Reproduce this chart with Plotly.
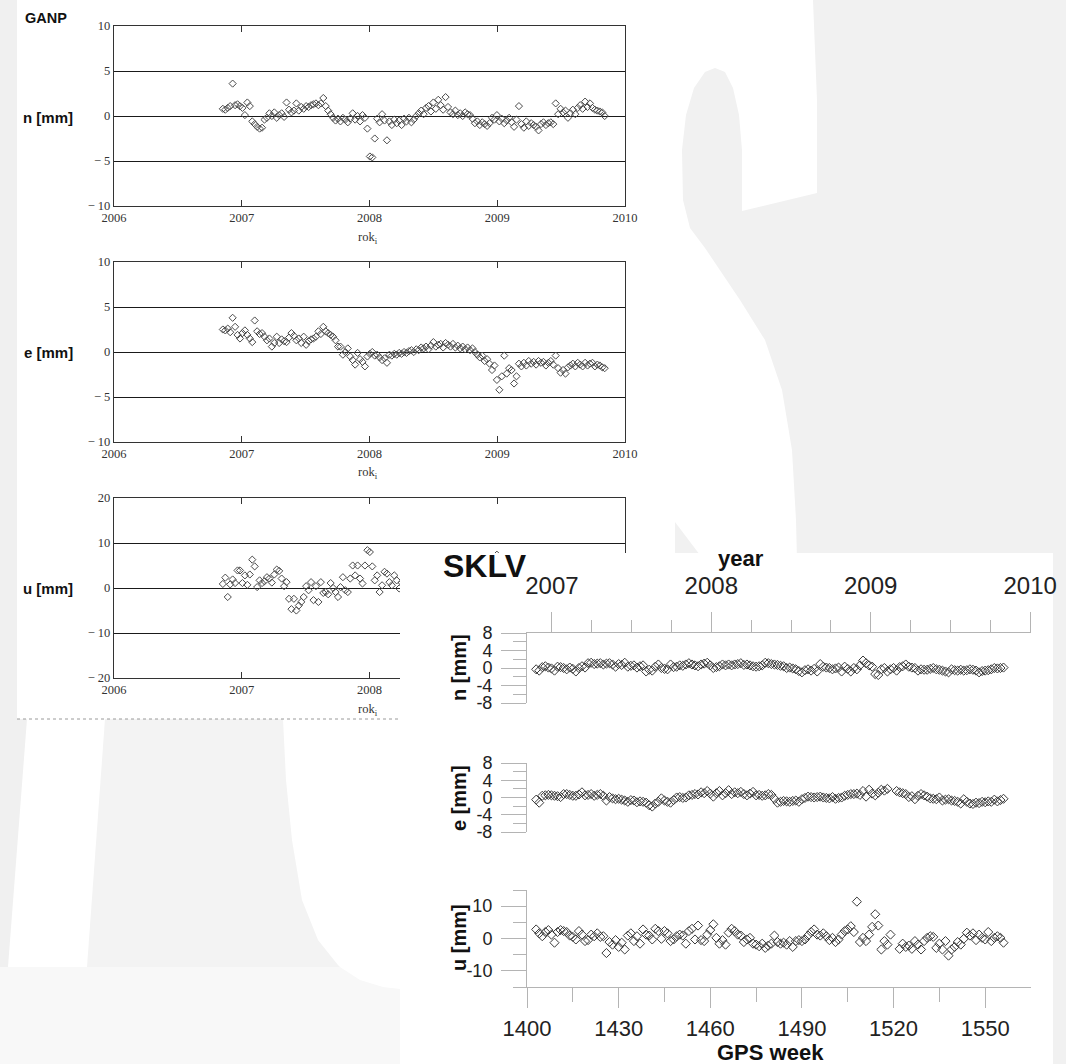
import datetime as dt
import plotly.graph_objects as go

W, H = 1066, 1064


def px(x):
    return x / W


def py(y):
    return 1 - y / H


# ---------------------------------------------------------------- data
# GANP: weekly solutions, GPS weeks 1400-1556 (plotted against decimal year)
ganp_weeks = list(range(1400, 1557))
ganp_n = [
    0.8, 0.7, 0.9, 1.1, 3.6, 1.2, 1.3, 1.1, 0.9, 0.1,
    1.5, 1.1, -0.6, -0.9, -1.2, -1.4, -1.3, -0.4, -0.2, 0.3,
    0.0, 0.4, -0.2, 0.1, 0.3, -0.1, 1.5, 0.7, 0.4, 0.6,
    1.4, 0.6, 1.0, 0.8, 1.1, 1.0, 1.2, 1.3, 1.4, 1.2,
    1.4, 2.0, 1.1, 0.6, 0.2, -0.2, -0.5, -0.3, -0.6, -0.2,
    -0.4, -0.7, -0.3, 0.3, -0.4, 0.0, -0.6, 0.1, -0.2, -1.4,
    -4.5, -4.6, -2.5, -0.3, -0.7, 0.2, -0.5, -2.7, -0.6, -1.0,
    -0.4, -0.8, -0.5, -1.0, -0.3, -0.6, -0.2, -0.7, -0.4, 0.0,
    0.3, 0.6, 0.2, 0.9, 1.1, 0.5, 1.5, 0.8, 1.8, 1.2,
    0.7, 2.1, 1.0, 0.4, 0.2, 0.6, 0.1, 0.3, 0.0, 0.4,
    0.2, 0.1, -0.3, -0.8, -0.6, -1.0, -0.7, -0.9, -1.1, -0.8,
    -0.2, -0.4, 0.1, -0.6, -0.3, -0.8, -0.5, -0.2, -0.7, -1.2,
    -0.4, 1.1, -0.9, -1.3, -0.6, -1.1, -0.8, -1.0, -1.2, -1.6,
    -0.9, -0.7, -1.0, -0.8, -0.7, -0.9, 1.4, 0.2, 0.8, 0.4,
    0.6, -0.2, 0.3, 0.7, 0.2, 0.9, 1.2, 0.8, 1.6, 1.0,
    1.4, 0.9, 0.7, 0.6, 0.5, 0.4, 0.0,
]
ganp_e = [
    2.5, 2.4, 2.6, 2.2, 3.8, 2.8, 1.9, 1.5, 2.1, 2.4,
    1.9, 1.5, 1.1, 3.5, 2.3, 2.0, 2.1, 1.7, 1.3, 1.5,
    0.6, 1.0, 1.7, 1.0, 1.4, 1.2, 1.1, 1.6, 2.1, 1.8,
    1.3, 1.5, 1.0, 1.7, 0.8, 1.2, 1.4, 1.5, 1.7, 2.3,
    2.0, 2.8, 2.3, 2.1, 1.9, 1.7, 1.3, 0.6, 0.6, -0.3,
    0.0, 0.4, -0.5, -0.9, -1.4, -0.1, -0.8, -1.1, -1.6, -0.5,
    -0.2, 0.0, -0.4, -0.3, -0.6, -0.9, -0.7, -1.2, -0.3, -0.4,
    -0.2, -0.3, -0.1, -0.2, 0.0, -0.1, 0.1, 0.2, 0.0, 0.3,
    0.2, 0.5, 0.4, 0.6, 0.3, 0.7, 1.1, 0.6, 0.8, 0.9,
    0.5, 1.0, 0.8, 0.6, 0.9, 0.5, 0.7, 0.4, 0.6, 0.3,
    0.5, 0.2, 0.4, 0.0, -0.3, -0.6, -0.4, -1.0, -0.8, -1.3,
    -2.0, -1.5, -3.1, -4.2, -2.7, -0.4, -2.4, -1.8, -2.0, -3.5,
    -2.7, -1.3, -1.6, -1.2, -1.5, -1.0, -1.3, -1.1, -1.4, -1.0,
    -1.2, -1.1, -1.5, -1.2, -1.0, -1.4, -0.4, -1.8, -2.3, -2.0,
    -2.4, -1.7, -1.5, -1.3, -1.6, -1.2, -1.4, -1.6, -1.2, -1.5,
    -1.3, -1.2, -1.6, -1.4, -1.5, -1.7, -1.8,
]
ganp_u = [
    0.9, 2.3, -2.0, 0.8, 1.9, 1.1, 3.9, 3.9, 1.1, 2.8,
    0.7, 3.0, 6.3, 4.8, 0.2, 1.7, 1.1, 1.5, 2.4, 2.1,
    1.2, 3.0, 4.1, 3.8, 2.1, 0.4, 1.3, -2.4, -4.7, -2.4,
    -5.0, -3.9, -3.1, -2.0, 0.4, -0.5, 1.3, -2.7, 0.4, -3.1,
    1.3, -1.1, -0.9, -1.4, 1.1, 0.0, -0.9, -2.0, 0.2, 2.4,
    -0.5, -0.9, 2.1, 5.0, 2.8, 5.0, 2.1, 1.0, 5.0, 8.4,
    8.0, 4.8, 1.7, 2.8, -0.9, 0.6, 3.6, 3.2, 1.3, 0.6,
    2.8, 1.7, -0.1, 1.2, -0.8, 0.5, 2.1, -1.5, 0.3, 1.8,
    -0.6, 2.4, 0.9, -1.2, 1.5, 3.0, 0.2, -2.1, 1.1, 2.6,
    -0.4, 0.8, 1.9, -1.0, 0.4, 2.2, -1.8, 0.6, 1.4, -0.9,
    2.8, 1.0, -0.3, 1.7, -1.4, 0.5, 2.3, 3.5, -0.7, 1.2,
    4.1, 2.0, 7.4, 3.2, -1.1, 0.9, 2.5, -2.3, 0.0, 1.6,
    -1.2, -0.5, 2.0, -2.8, -0.6, 1.3, -1.9, 0.4, -3.0, -1.5,
    0.7, -2.2, 1.0, -0.8, 1.8, -1.6, 0.2, 2.4, -0.4, 1.1,
    -2.0, 0.6, 2.9, 0.3, -1.3, 1.6, 2.7, -0.2, 0.9, 3.1,
    1.4, -0.7, 0.5, 2.2, 1.0, -0.6, 0.8,
]

# SKLV: weekly solutions, GPS weeks 1403-1556 (None = no solution)
sklv_weeks = list(range(1403, 1557))
sklv_n = [
    -0.3, -0.6, 0.2, 0.4, 0.1, -0.1, -0.6, 0.3, 0.2, 0.0,
    -0.3, 0.1, -0.2, -0.8, 0.0, 0.4, 0.1, 1.1, 1.2, 0.9,
    1.0, 1.1, 0.8, 1.0, 1.1, 0.8, 0.3, 0.9, 0.7, 1.2,
    0.3, 0.5, 0.6, 0.1, 0.4, 0.6, -0.8, -0.4, -0.6, 0.3,
    0.8, 0.0, -0.2, -0.3, 0.8, 0.2, 0.3, 0.6, 0.5, 0.8,
    1.1, 0.8, 0.6, 0.4, 0.8, 1.0, 1.2, 0.6, 0.0, 0.2,
    0.4, 0.8, 0.6, 0.8, 0.6, 0.8, 0.9, 1.1, 0.7, 0.8,
    0.6, 0.4, 0.3, 0.4, 0.6, 1.2, 1.1, 0.9, 0.8, 0.7,
    0.5, 0.4, 0.0, 0.1, -0.1, -0.3, -0.7, -1.0, -0.5, -0.3,
    -0.6, -0.2, -0.8, 0.9, 0.3, 0.1, 0.0, -0.3, -0.1, 0.1,
    -0.8, 0.3, -0.2, -0.8, 0.0, -0.3, 0.6, 1.7, 1.1, 0.6,
    0.3, -1.4, -1.6, -0.3, 0.0, -0.8, -0.3, 0.0, -0.6, 0.2,
    0.4, 0.8, 0.3, 0.1, 0.0, -0.6, -0.3, -0.4, -0.4, -0.2,
    0.0, -0.3, -0.4, -0.6, -0.8, -1.0, -0.3, -0.5, -0.6, -0.4,
    -0.6, -0.5, -0.3, -0.4, -0.6, -1.0, -0.7, -0.6, -0.5, -0.3,
    0.0, -0.1, 0.0, 0.1,
]
sklv_e = [
    -0.5, -1.2, 0.4, 0.5, 0.6, 0.5, 0.4, 0.3, 0.1, 0.8,
    0.8, 0.6, 0.4, 0.4, 0.7, 1.2, 0.5, 0.6, 0.8, 0.4,
    0.6, 0.8, 0.4, -0.7, 0.1, -0.2, -0.4, -0.3, -0.5, -0.7,
    -1.0, -0.6, -0.7, -1.1, -0.9, -1.0, -1.2, -1.8, -2.1, -1.4,
    -1.0, -0.2, -0.7, -1.0, -1.2, -0.6, 0.0, 0.1, -0.1, 0.0,
    0.5, 0.6, 0.8, 0.7, 1.2, 1.0, 1.5, 0.9, 0.2, 1.0,
    1.5, 0.5, 1.0, 1.7, 0.8, 1.2, 1.0, 1.3, 0.8, 0.5,
    0.9, 1.3, 0.5, 0.6, 0.4, 0.5, 0.8, 0.6, -0.3, -1.2,
    -1.0, -0.8, -0.9, -1.0, -0.8, -0.7, -1.0, -0.4, -0.1, 0.2,
    0.1, 0.0, 0.1, 0.2, 0.0, -0.1, -0.2, 0.1, -0.3, -0.1,
    0.0, 0.4, 0.6, 0.8, 0.8, 0.9, 0.6, 1.5, 0.2, 1.8,
    0.9, 0.5, 1.1, 1.8, 1.6, 2.0, None, None, 1.5, 1.2,
    1.0, 0.8, 0.1, 0.3, -0.4, 0.4, 0.8, 0.5, 0.2, -0.2,
    -0.3, -0.4, 0.0, -0.7, -0.5, -0.4, -0.7, -0.8, -1.0, -1.4,
    -0.4, -1.0, -1.4, -1.5, -1.2, -1.3, -1.0, -1.1, -0.9, -1.0,
    -0.5, -0.9, -0.6, -0.3,
]
sklv_u = [
    2.8, 1.6, 0.7, 2.0, 2.6, 1.2, -1.3, 2.0, 2.6, 2.3,
    2.0, 0.9, 0.5, -0.3, 2.3, 1.2, -0.8, -0.5, 1.2, 0.7,
    1.6, 0.5, 0.7, -4.5, -1.1, -1.9, -0.5, -2.6, -1.3, -3.4,
    0.9, 1.6, -0.8, 0.7, -1.6, 2.8, 1.2, 0.9, -0.3, 3.0,
    2.3, -0.1, 2.3, 1.6, -0.8, -0.3, 0.7, 1.2, 0.9, -1.6,
    2.3, 3.0, -0.3, 4.0, -0.5, -0.8, 1.2, 2.6, 4.4, 0.2,
    -1.6, -0.5, -1.9, 1.8, 3.0, 2.3, 1.2, 0.9, -1.1, -0.3,
    0.2, -1.6, -1.9, -2.4, -1.6, -2.9, -2.2, -1.6, 0.9, -1.1,
    -1.6, -1.3, -1.9, -0.8, -2.6, -0.8, -0.5, -0.8, -0.3, 0.9,
    2.0, 2.8, 1.2, 0.9, 1.6, 0.7, -0.5, 0.2, -1.1, -0.3,
    1.2, 2.3, 2.8, 3.8, 2.0, 11.4, -1.1, 0.2, -0.8, 1.2,
    3.6, 7.5, 4.0, -3.4, -0.8, -1.9, 1.2, None, None, -3.2,
    -1.6, -2.6, -2.2, -3.2, -0.8, -1.9, -3.4, -0.8, 0.2, 0.7,
    0.5, -2.9, -1.6, -3.4, -0.8, -5.3, -3.4, -2.6, -1.1, -1.9,
    -0.1, 1.8, 0.9, 1.6, -0.5, 1.2, 0.2, -0.3, 2.0, -0.8,
    0.2, 0.7, 0.2, -1.3,
]

ganp_year_ticks = [2006, 2007, 2008, 2009, 2010]
sklv_year_ticks = [2007, 2008, 2009, 2010]
sklv_week_range = [1400, 1565]
sklv_week_ticks = [1400, 1430, 1460, 1490, 1520, 1550]
sklv_week_minor = [1415, 1445, 1475, 1505, 1535]

# ---------------------------------------------------------------- time scales
GPS_EPOCH = dt.date(1980, 1, 6)


def week_to_year(w):
    """Decimal year of the middle of GPS week w."""
    d = GPS_EPOCH + dt.timedelta(days=7 * w + 3)
    y0 = dt.date(d.year, 1, 1)
    y1 = dt.date(d.year + 1, 1, 1)
    return d.year + (d - y0).days / (y1 - y0).days


def date_to_week(d):
    return (d - GPS_EPOCH).days / 7.0


W07 = date_to_week(dt.date(2007, 1, 1))
W10 = date_to_week(dt.date(2010, 1, 1))


def week_to_year_lin(w):
    return 2007 + (w - W07) * 3.0 / (W10 - W07)


ganp_years = [week_to_year(w) for w in ganp_weeks]

# ---------------------------------------------------------------- styling
SERIF = "Liberation Serif"
SANS = "Liberation Sans"
GANP_MARK = dict(symbol="diamond-open", size=5.5, color="#4a4a4a", line=dict(width=1))
SKLV_MARK = dict(symbol="diamond-open", size=7, color="#3a3a3a", line=dict(width=1))
LIGHT = "#b4b4b4"

fig = go.Figure()

# GANP panels (subplots 1-3)
for k, vals in zip((1, 2, 3), (ganp_n, ganp_e, ganp_u)):
    fig.add_trace(go.Scatter(
        x=ganp_years, y=vals, mode="markers", marker=GANP_MARK,
        xaxis="x" if k == 1 else f"x{k}", yaxis="y" if k == 1 else f"y{k}",
        showlegend=False, hoverinfo="skip"))

# white card of the SKLV figure, covering the lower GANP panel (subplot 4)
fig.add_trace(go.Scatter(
    x=[0, 1, 1, 0, 0], y=[0, 0, 1, 1, 0], mode="none", fill="toself",
    fillcolor="white", xaxis="x4", yaxis="y4", showlegend=False, hoverinfo="skip"))

# SKLV panels (subplots 5-7)
for k, vals in zip((5, 6, 7), (sklv_n, sklv_e, sklv_u)):
    fig.add_trace(go.Scatter(
        x=sklv_weeks, y=vals, mode="markers", marker=SKLV_MARK,
        xaxis=f"x{k}", yaxis=f"y{k}", showlegend=False, hoverinfo="skip"))

# calendar-year axis on top of the SKLV panels
fig.add_trace(go.Scatter(
    x=[week_to_year_lin(sklv_week_range[0])], y=[None], mode="markers",
    xaxis="x8", yaxis="y5", showlegend=False, hoverinfo="skip"))

GX = [px(114), px(625)]
ganp_rows = {1: (26, 206, 10), 2: (262, 442, 10), 3: (498, 678, 20)}

layout = dict(
    width=W, height=H, autosize=False,
    margin=dict(l=0, r=0, t=0, b=0, pad=0, autoexpand=False),
    paper_bgcolor="white", plot_bgcolor="rgba(0,0,0,0)",
    showlegend=False,
)


def minus(v):
    return ("\u2212 " + str(abs(v))) if v < 0 else str(v)


for k, (top, bot, lim) in ganp_rows.items():
    xs = "xaxis" if k == 1 else f"xaxis{k}"
    ys = "yaxis" if k == 1 else f"yaxis{k}"
    yvals = [-lim, -lim // 2, 0, lim // 2, lim]
    layout[xs] = dict(
        domain=GX, range=[2006, 2010], anchor="y" if k == 1 else f"y{k}",
        tickvals=ganp_year_ticks, ticktext=[str(t) for t in ganp_year_ticks],
        ticks="inside", ticklen=6, tickcolor="#333", tickwidth=1,
        showline=True, linecolor="#333", linewidth=1.3, mirror="ticks",
        showgrid=False, zeroline=False, automargin=False,
        tickfont=dict(family=SERIF, size=12.5, color="#333"))
    layout[ys] = dict(
        domain=[py(bot), py(top)], range=[-lim, lim], anchor="x" if k == 1 else f"x{k}",
        tickvals=yvals, ticktext=[minus(v) for v in yvals], ticks="",
        showline=True, linecolor="#333", linewidth=1.3, mirror=True,
        showgrid=True, gridcolor="#1a1a1a", gridwidth=1.3, zeroline=False,
        automargin=False,
        tickfont=dict(family=SERIF, size=12.5, color="#333"))

layout["xaxis4"] = dict(domain=[px(400), px(1053)], range=[0, 1], visible=False,
                        anchor="y4", fixedrange=True, automargin=False)
layout["yaxis4"] = dict(domain=[py(1064), py(553)], range=[0, 1], visible=False,
                        anchor="x4", fixedrange=True, automargin=False)

SX = [px(527), px(1031)]
sklv_rows = {5: (633, 703, 8), 6: (763, 832, 8), 7: (890, 987, 15)}
for k, (top, bot, lim) in sklv_rows.items():
    if k == 7:
        major = [-10, 0, 10]
        minor = [-15, -5, 5, 15]
    else:
        major = [-8, -4, 0, 4, 8]
        minor = [-6, -2, 2, 6]
    layout[f"yaxis{k}"] = dict(
        domain=[py(bot), py(top)], range=[-lim, lim], anchor=f"x{k}",
        tickvals=major, ticktext=[str(v) for v in major],
        ticks="outside", ticklen=25, tickcolor=LIGHT, tickwidth=1,
        minor=dict(tickvals=minor, ticks="outside", ticklen=13, tickcolor=LIGHT,
                   showgrid=False),
        showline=True, linecolor=LIGHT, linewidth=1, showgrid=False, zeroline=False,
        ticklabelstandoff=5, automargin=False,
        tickfont=dict(family=SANS, size=18, color="#222"))
    xa = dict(domain=SX, range=sklv_week_range, anchor=f"y{k}",
              showgrid=False, zeroline=False, automargin=False)
    if k == 7:
        xa.update(
            tickvals=sklv_week_ticks, ticktext=[str(t) for t in sklv_week_ticks],
            ticks="outside", ticklen=20, tickcolor=LIGHT,
            minor=dict(tickvals=sklv_week_minor, ticks="outside", ticklen=14,
                       tickcolor=LIGHT, showgrid=False),
            showline=True, linecolor=LIGHT, linewidth=1,
            ticklabelstandoff=2,
            tickfont=dict(family=SANS, size=22, color="#222"))
    else:
        xa.update(visible=False)
    layout[f"xaxis{k}"] = xa

layout["xaxis8"] = dict(
    overlaying="x5", side="top", anchor="y5", automargin=False,
    range=[week_to_year_lin(sklv_week_range[0]), week_to_year_lin(sklv_week_range[1])],
    tickvals=sklv_year_ticks, ticktext=[str(t) for t in sklv_year_ticks],
    ticks="outside", ticklen=20, tickcolor=LIGHT,
    minor=dict(tick0=2007, dtick=0.25, ticks="outside", ticklen=12,
               tickcolor=LIGHT, showgrid=False),
    showline=True, linecolor=LIGHT, linewidth=1, showgrid=False, zeroline=False,
    ticklabelstandoff=8,
    tickfont=dict(family=SANS, size=24, color="#222"))

# ---------------------------------------------------------------- background
def poly(points):
    return "M " + " L ".join(f"{px(x):.5f},{py(y):.5f}" for x, y in points) + " Z"


backdrop = [
    ("#f1f1f1", [(813, 0), (1066, 0), (1066, 1064), (797, 1064), (797, 560), (796, 520),
                 (792, 450), (782, 390), (765, 340), (740, 300), (705, 248), (690, 228),
                 (683, 200), (682, 150), (686, 115), (694, 88), (705, 72), (715, 68),
                 (725, 72), (733, 88), (739, 115), (742, 150), (742, 211), (817, 193),
                 (817, 100)]),
    ("#f1f1f1", [(675, 522), (700, 555), (675, 555)]),
    ("#f0f0f0", [(0, 0), (17, 0), (17, 719), (27, 719), (8, 967), (0, 967)]),
    ("#f3f3f3", [(105, 719), (283, 719), (286, 780), (292, 840), (302, 900), (318, 940),
                 (338, 965), (340, 967), (87, 967)]),
    ("#f8f8f8", [(0, 967), (340, 967), (360, 980), (383, 987), (400, 989),
                 (400, 1064), (0, 1064)]),
]
shapes = []
for color, pts in backdrop:
    shapes.append(dict(type="path", path=poly(pts), xref="paper", yref="paper",
                       fillcolor=color, line=dict(width=0), layer="below"))
# GANP card
shapes.append(dict(type="rect", xref="paper", yref="paper", x0=px(17), x1=px(675),
                   y0=py(719), y1=py(0), fillcolor="white", line=dict(width=0),
                   layer="below"))
shapes.append(dict(type="line", xref="paper", yref="paper", x0=px(17), x1=px(675),
                   y0=py(719), y1=py(719), line=dict(color="#9a9a9a", width=1, dash="dot"),
                   layer="below"))
layout["shapes"] = shapes


# ---------------------------------------------------------------- labels
def label(text, x, y, size, family=SANS, color="#111", angle=0):
    return dict(text=text, x=px(x), y=py(y), xref="paper", yref="paper",
                showarrow=False, textangle=angle, xanchor="center", yanchor="middle",
                font=dict(family=family, size=size, color=color))


annotations = [
    label("<b>GANP</b>", 46, 18, 14.5),
    label("<b>n [mm]</b>", 48, 117, 15),
    label("<b>e [mm]</b>", 48, 352, 15),
    label("<b>u [mm]</b>", 48, 588, 15),
    label("rok<sub>i</sub>", 368, 238, 12.5, family=SERIF, color="#333"),
    label("rok<sub>i</sub>", 368, 473, 12.5, family=SERIF, color="#333"),
    label("rok<sub>i</sub>", 368, 710, 12.5, family=SERIF, color="#333"),
    label("<b>SKLV</b>", 485, 566, 32),
    label("<b>year</b>", 741, 558, 22),
    label("<b>n [mm]</b>", 459, 668, 20, angle=-90),
    label("<b>e [mm]</b>", 459, 798, 20, angle=-90),
    label("<b>u [mm]</b>", 459, 938, 20, angle=-90),
    label("<b>GPS week</b>", 770, 1052, 22),
]
layout["annotations"] = annotations

fig.update_layout(**layout)
fig.write_html("out.html")
